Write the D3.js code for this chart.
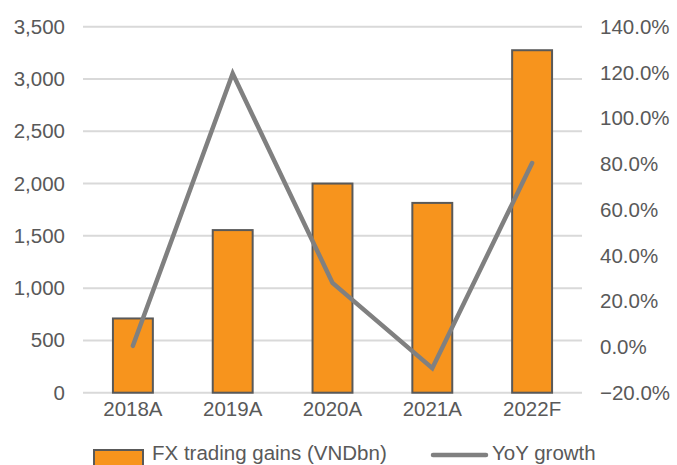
<!DOCTYPE html>
<html>
<head>
<meta charset="utf-8">
<script src="https://cdn.jsdelivr.net/npm/d3@7"></script>
<style>
  html, body { margin: 0; padding: 0; background: #fff; }
  svg { display: block; font-family: "Liberation Sans", Arial, sans-serif; }
</style>
</head>
<body>
<svg id="chart" width="677" height="465"></svg>
<script>
// FX trading gains (VNDbn) with YoY growth
const categories = ["2018A", "2019A", "2020A", "2021A", "2022F"];
const fxGains = [710, 1555, 2000, 1815, 3275];
const yoyGrowth = [0.005, 1.195, 0.28, -0.093, 0.804];
const leftTicks = [0, 500, 1000, 1500, 2000, 2500, 3000, 3500];
const rightTicks = [-0.2, 0, 0.2, 0.4, 0.6, 0.8, 1.0, 1.2, 1.4];

const svg = d3.select("#chart");
const plot = { left: 83, right: 582, top: 26.7, bottom: 392.7 };
const textColor = "#595959";
const fontSize = 20.5;

const x = d3.scaleBand().domain(categories).range([plot.left, plot.right]).paddingInner(0.6).paddingOuter(0.3);
const yL = d3.scaleLinear().domain([0, 3500]).range([plot.bottom, plot.top]);
const yR = d3.scaleLinear().domain([-0.2, 1.4]).range([plot.bottom, plot.top]);

// gridlines
svg.append("g").selectAll("line").data(leftTicks).join("line")
  .attr("x1", plot.left).attr("x2", plot.right)
  .attr("y1", d => yL(d)).attr("y2", d => yL(d))
  .attr("stroke", "#d9d9d9").attr("stroke-width", 2);

// left axis
const fmtL = d3.format(",");
const axL = svg.append("g").attr("transform", `translate(${plot.left - 18},0)`)
  .call(d3.axisLeft(yL).tickValues(leftTicks).tickFormat(fmtL).tickSize(0).tickPadding(0));
axL.select(".domain").remove();
axL.selectAll("text").attr("fill", textColor).style("font-size", fontSize + "px").style("font-family", "Liberation Sans, Arial, sans-serif");

// right axis
const fmtR = d3.format(".1%");
const axR = svg.append("g").attr("transform", `translate(${plot.right + 18},0)`)
  .call(d3.axisRight(yR).tickValues(rightTicks).tickFormat(fmtR).tickSize(0).tickPadding(0));
axR.select(".domain").remove();
axR.selectAll("text").attr("fill", textColor).style("font-size", fontSize + "px").style("font-family", "Liberation Sans, Arial, sans-serif");

// bars
svg.append("g").selectAll("rect").data(fxGains).join("rect")
  .attr("x", (d, i) => x(categories[i]))
  .attr("width", x.bandwidth())
  .attr("y", d => yL(d))
  .attr("height", d => yL(0) - yL(d))
  .attr("fill", "#F7941D")
  .attr("stroke", "#595959").attr("stroke-width", 2);

// bottom axis labels
const axB = svg.append("g").attr("transform", `translate(0,${plot.bottom + 9})`)
  .call(d3.axisBottom(x).tickSize(0).tickPadding(0));
axB.select(".domain").remove();
axB.selectAll("text").attr("fill", textColor).attr("dy", "0.71em").style("font-size", fontSize + "px").style("font-family", "Liberation Sans, Arial, sans-serif");

// growth line
const line = d3.line()
  .x((d, i) => x(categories[i]) + x.bandwidth() / 2)
  .y(d => yR(d));
svg.append("path").datum(yoyGrowth)
  .attr("d", line)
  .attr("fill", "none")
  .attr("stroke", "#808080")
  .attr("stroke-width", 4.5)
  .attr("stroke-linejoin", "miter")
  .attr("stroke-linecap", "round");

// legend
const lg = svg.append("g");
lg.append("rect").attr("x", 94).attr("y", 450).attr("width", 49).attr("height", 16)
  .attr("fill", "#F7941D").attr("stroke", "#595959").attr("stroke-width", 2);
lg.append("text").attr("x", 152).attr("y", 460).text("FX trading gains (VNDbn)")
  .attr("fill", textColor).style("font-size", fontSize + "px");
lg.append("line").attr("x1", 433).attr("x2", 486).attr("y1", 455).attr("y2", 455)
  .attr("stroke", "#808080").attr("stroke-width", 4.5).attr("stroke-linecap", "round");
lg.append("text").attr("x", 492).attr("y", 460).text("YoY growth")
  .attr("fill", textColor).style("font-size", fontSize + "px");
</script>
</body>
</html>
